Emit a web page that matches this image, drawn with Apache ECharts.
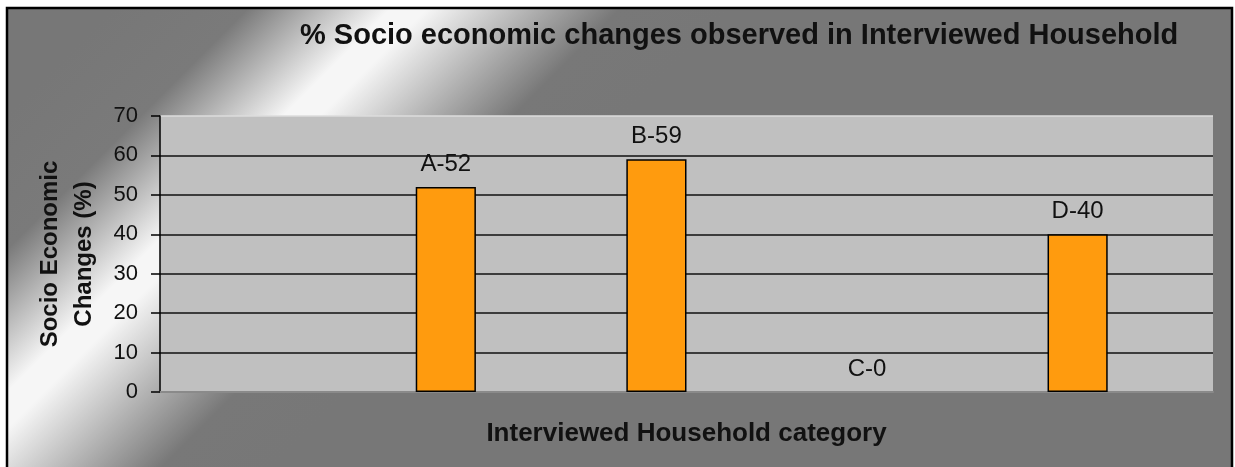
<!DOCTYPE html>
<html>
<head>
<meta charset="utf-8">
<script src="https://cdn.jsdelivr.net/npm/echarts@6/dist/echarts.min.js"></script>
<style>
  html, body { margin: 0; padding: 0; background: #fff; }
  #chart { width: 1235px; height: 467px; }
</style>
</head>
<body>
<div id="chart"></div>
<script>
// first slot is left empty, as in the original sheet
const categories = ['', 'A', 'B', 'C', 'D'];
const changes = [null, 52, 59, 0, 40];
// second (empty) series of the cluster, keeps the bars left of the category centre
const emptySeries = [null, null, null, null, null];
const yMin = 0;
const yMax = 70;
const yStep = 10;

const font = '"Liberation Sans", Arial, sans-serif';

const chart = echarts.init(document.getElementById('chart'));

// a zero bar has no visible outline in the original
const barData = changes.map(function (v) {
    return v === 0 ? { value: v, itemStyle: { borderWidth: 0 } } : v;
});

const option = {
    animation: false,
    graphic: [{
        type: 'rect',
        z: -100,
        shape: { x: 7, y: 8, width: 1225, height: 470 },
        style: {
            fill: {
                type: 'linear',
                global: true,
                x: 70, y: 50, x2: 380, y2: 360,
                colorStops: [
                    { offset: 0, color: '#777777' },
                    { offset: 0.22, color: '#7a7a7a' },
                    { offset: 0.45, color: '#f6f6f6' },
                    { offset: 0.51, color: '#f6f6f6' },
                    { offset: 0.82, color: '#787878' },
                    { offset: 1, color: '#777777' }
                ]
            },
            stroke: '#000',
            lineWidth: 2.5
        }
    }],
    title: {
        text: '% Socio economic changes observed in Interviewed Household',
        left: 295,
        top: 16,
        textStyle: {
            fontFamily: font,
            fontSize: 29,
            fontWeight: 'bold',
            color: '#111'
        }
    },
    grid: {
        left: 160,
        right: 22,
        top: 116,
        bottom: 75,
        show: true,
        backgroundColor: '#c0c0c0',
        borderWidth: 0
    },
    xAxis: {
        type: 'category',
        data: categories,
        name: 'Interviewed Household category',
        nameLocation: 'middle',
        nameGap: 29,
        nameTextStyle: {
            fontFamily: font,
            fontSize: 26,
            fontWeight: 'bold',
            color: '#111'
        },
        axisLine: { lineStyle: { color: '#8a8a8a', width: 2 } },
        axisTick: { show: false },
        axisLabel: { show: false }
    },
    yAxis: {
        type: 'value',
        min: yMin,
        max: yMax,
        interval: yStep,
        name: 'Socio Economic\nChanges (%)',
        nameLocation: 'middle',
        nameRotate: 90,
        nameGap: 59,
        nameTextStyle: {
            fontFamily: font,
            fontSize: 24,
            fontWeight: 'bold',
            lineHeight: 34,
            color: '#111'
        },
        axisLine: { show: true, lineStyle: { color: '#000', width: 1.5 } },
        axisTick: { show: true, length: 9, lineStyle: { color: '#000', width: 1.5 } },
        axisLabel: {
            fontFamily: font,
            fontSize: 22,
            color: '#111',
            margin: 22
        },
        splitLine: {
            lineStyle: {
                color: ['#8a8a8a', '#111', '#111', '#111', '#111', '#111', '#111', '#dcdcdc'],
                width: 1.5
            }
        }
    },
    series: [
        {
            name: 'Socio economic changes',
            type: 'bar',
            data: barData,
            barGap: '0%',
            barCategoryGap: '42.86%',
            itemStyle: {
                color: '#ff9b0e',
                borderColor: '#000',
                borderWidth: 1.5
            },
            label: {
                show: true,
                position: 'top',
                distance: 11,
                fontFamily: font,
                fontSize: 24,
                color: '#111',
                formatter: function (p) {
                    return p.value == null ? '' : p.name + '-' + p.value;
                }
            }
        },
        {
            name: 'empty',
            type: 'bar',
            data: emptySeries,
            silent: true
        }
    ]
};

chart.setOption(option);
</script>
</body>
</html>
